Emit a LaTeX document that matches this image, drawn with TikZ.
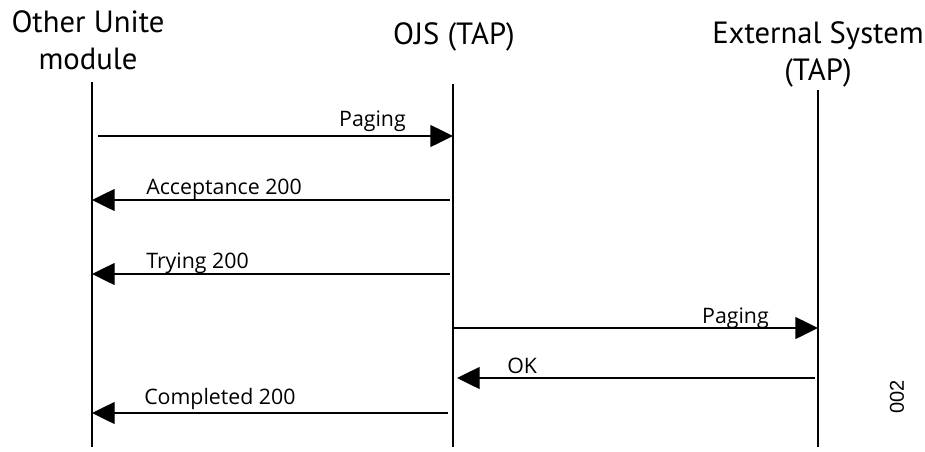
\documentclass[tikz,border=0pt]{standalone}
\usepackage{fontspec}
\setmainfont{Open Sans}
\newfontfamily\headfont{PT Sans}
\newfontfamily\tagfont{Liberation Sans}
\usepackage{tikz}
\usetikzlibrary{arrows.meta}

\tikzset{
  lifeline/.style={line width=1.2pt},
  msg/.style={line width=1pt, -{Triangle[length=17pt,width=16.5pt]}},
  lbl/.style={inner sep=0.75pt, font=\fontsize{16}{19}\selectfont},
  head/.style={inner sep=0.75pt, align=center, font=\headfont\fontsize{23}{27.75}\selectfont},
}

\begin{document}
\begin{tikzpicture}[x=0.75pt,y=0.75pt,yscale=-1,xscale=1]
	\useasboundingbox (0,0) rectangle (925,451);
	
	% Head Nodes (base = last line)
	\node [head, anchor=base] (oum) at (88,69) {Other Unite\\module};
	\node [head, anchor=base] (ojs) at (454,44) {OJS (TAP)};
	\node [head, anchor=base] (ext) at (818,80) {External System\\(TAP)};
	
	%Lifelines
	\coordinate (oum top) at (92,82);
	\coordinate (oum bot) at (92,447);
	\coordinate (ojs top) at (453,84);
	\coordinate (ojs bot) at (453,447);
	\coordinate (ext top) at (818,90);
	\coordinate (ext bot) at (818,447);
	\draw [lifeline] (oum top) -- (oum bot);
	\draw [lifeline] (ojs top) -- (ojs bot);
	\draw [lifeline] (ext top) -- (ext bot);
	
	%Message ends
	\coordinate (pag1 s) at (98,136);
	\coordinate (pag1 e) at (453,136);
	\coordinate (acc s) at (450,200);
	\coordinate (acc e) at (92,200);
	\coordinate (try s) at (450,274);
	\coordinate (try e) at (92,274);
	\coordinate (pag2 s) at (453,328);
	\coordinate (pag2 e) at (818,328);
	\coordinate (ok s) at (815,378);
	\coordinate (ok e) at (457,378);
	\coordinate (cpl s) at (448,413);
	\coordinate (cpl e) at (92,413);
	
	%Straight Lines
	\draw [msg] (pag1 s) -- (pag1 e);
	\draw [msg] (acc s) -- (acc e);
	\draw [msg] (try s) -- (try e);
	\draw [msg] (pag2 s) -- (pag2 e);
	\draw [msg] (ok s) -- (ok e);
	\draw [msg] (cpl s) -- (cpl e);
	
	% Text Node
	\node [lbl, anchor=base east] (pag1) at (407,126) {Paging};
	% Text Node
	\node [lbl, anchor=base west] (acc) at (145,194) {Acceptance 200};
	% Text Node
	\node [lbl, anchor=base west] (try) at (145,268) {Trying 200};
	% Text Node
	\node [lbl, anchor=base east] (pag2) at (770,323) {Paging};
	% Text Node
	\node [lbl, anchor=base west] (ok) at (506,373) {OK};
	% Text Node
	\node [lbl, anchor=base west] (cpl) at (143,404) {Completed 200};
	% Text Node
	\node [inner sep=0.75pt, rotate=90, font=\tagfont\fontsize{15}{18}\selectfont] (tag) at (897,397) {002};
	
\end{tikzpicture}
\end{document}
